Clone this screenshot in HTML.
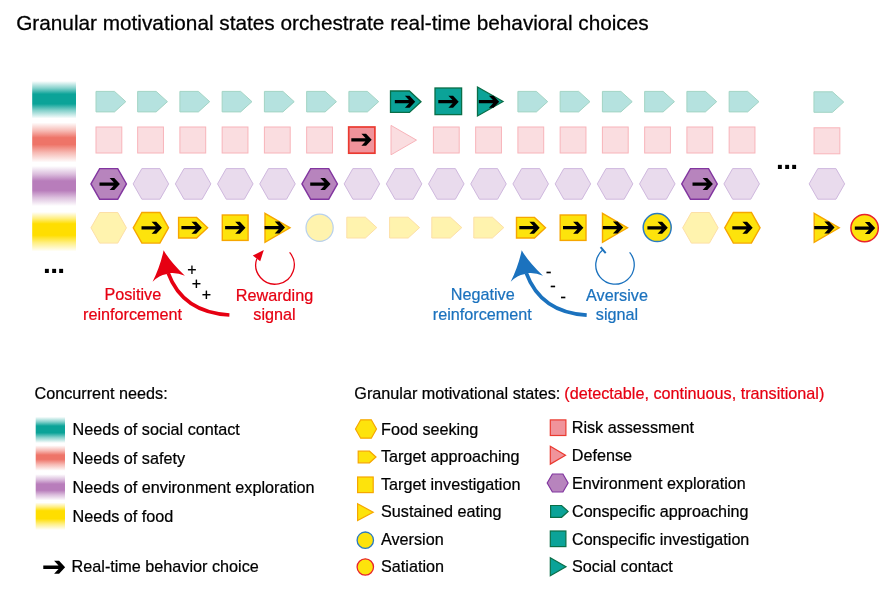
<!DOCTYPE html>
<html lang="en">
<head>
<meta charset="utf-8">
<title>Granular motivational states orchestrate real-time behavioral choices</title>
<style>
html,body{margin:0;padding:0;background:#fff;}
body{width:892px;height:592px;overflow:hidden;position:relative;font-family:"Liberation Sans",Arial,sans-serif;}
svg{position:absolute;left:0;top:0;display:block;}
svg text{font-family:"Liberation Sans",Arial,sans-serif;}
.t16{font-size:16.2px;fill:#000;stroke:#000;stroke-width:0.22px;}
.red{fill:#e60012;stroke:#e60012;stroke-width:0.22px;}
.blue{fill:#1b72be;stroke:#1b72be;stroke-width:0.22px;}
</style>
</head>
<body>
<svg width="892" height="592" viewBox="0 0 892 592">
<defs>
<linearGradient id="gT" x1="0" y1="0" x2="0" y2="1"><stop offset="0" stop-color="#0ba398" stop-opacity="0"/><stop offset="0.193" stop-color="#0ba398" stop-opacity="0.5"/><stop offset="0.35" stop-color="#0ba398"/><stop offset="0.61" stop-color="#0ba398"/><stop offset="0.785" stop-color="#0ba398" stop-opacity="0.5"/><stop offset="1" stop-color="#0ba398" stop-opacity="0"/></linearGradient>
<linearGradient id="gR" x1="0" y1="0" x2="0" y2="1"><stop offset="0" stop-color="#ee7468" stop-opacity="0"/><stop offset="0.209" stop-color="#ee7468" stop-opacity="0.5"/><stop offset="0.38" stop-color="#ee7468"/><stop offset="0.55" stop-color="#ee7468"/><stop offset="0.753" stop-color="#ee7468" stop-opacity="0.5"/><stop offset="1" stop-color="#ee7468" stop-opacity="0"/></linearGradient>
<linearGradient id="gP" x1="0" y1="0" x2="0" y2="1"><stop offset="0" stop-color="#b87dbb" stop-opacity="0"/><stop offset="0.206" stop-color="#b87dbb" stop-opacity="0.5"/><stop offset="0.375" stop-color="#b87dbb"/><stop offset="0.61" stop-color="#b87dbb"/><stop offset="0.785" stop-color="#b87dbb" stop-opacity="0.5"/><stop offset="1" stop-color="#b87dbb" stop-opacity="0"/></linearGradient>
<linearGradient id="gY" x1="0" y1="0" x2="0" y2="1"><stop offset="0" stop-color="#ffde00" stop-opacity="0"/><stop offset="0.165" stop-color="#ffde00" stop-opacity="0.5"/><stop offset="0.3" stop-color="#ffde00"/><stop offset="0.59" stop-color="#ffde00"/><stop offset="0.774" stop-color="#ffde00" stop-opacity="0.5"/><stop offset="1" stop-color="#ffde00" stop-opacity="0"/></linearGradient>
</defs>

<text x="16.2" y="29.8" font-size="20.77" fill="#000" stroke="#000" stroke-width="0.28">Granular motivational states orchestrate real-time behavioral choices</text>

<!-- need bars -->
<rect x="32.2" y="81" width="43.8" height="37.5" fill="url(#gT)"/>
<rect x="32.2" y="122.5" width="43.8" height="40" fill="url(#gR)"/>
<rect x="32.2" y="166" width="43.8" height="40" fill="url(#gP)"/>
<rect x="32.2" y="212" width="43.8" height="39.5" fill="url(#gY)"/>

<polygon points="96,91.4 114.48,91.4 125.8,101.65 114.48,111.9 96,111.9" fill="#b5e2df" stroke="#a3d4c4" stroke-width="1"/>
<polygon points="137.65,91.4 156.13,91.4 167.45,101.65 156.13,111.9 137.65,111.9" fill="#b5e2df" stroke="#a3d4c4" stroke-width="1"/>
<polygon points="179.9,91.4 198.38,91.4 209.7,101.65 198.38,111.9 179.9,111.9" fill="#b5e2df" stroke="#a3d4c4" stroke-width="1"/>
<polygon points="222.15,91.4 240.63,91.4 251.95,101.65 240.63,111.9 222.15,111.9" fill="#b5e2df" stroke="#a3d4c4" stroke-width="1"/>
<polygon points="264.4,91.4 282.88,91.4 294.2,101.65 282.88,111.9 264.4,111.9" fill="#b5e2df" stroke="#a3d4c4" stroke-width="1"/>
<polygon points="306.65,91.4 325.13,91.4 336.45,101.65 325.13,111.9 306.65,111.9" fill="#b5e2df" stroke="#a3d4c4" stroke-width="1"/>
<polygon points="348.9,91.4 367.38,91.4 378.7,101.65 367.38,111.9 348.9,111.9" fill="#b5e2df" stroke="#a3d4c4" stroke-width="1"/>
<polygon points="517.9,91.4 536.38,91.4 547.7,101.65 536.38,111.9 517.9,111.9" fill="#b5e2df" stroke="#a3d4c4" stroke-width="1"/>
<polygon points="560.15,91.4 578.63,91.4 589.95,101.65 578.63,111.9 560.15,111.9" fill="#b5e2df" stroke="#a3d4c4" stroke-width="1"/>
<polygon points="602.4,91.4 620.88,91.4 632.2,101.65 620.88,111.9 602.4,111.9" fill="#b5e2df" stroke="#a3d4c4" stroke-width="1"/>
<polygon points="644.65,91.4 663.13,91.4 674.45,101.65 663.13,111.9 644.65,111.9" fill="#b5e2df" stroke="#a3d4c4" stroke-width="1"/>
<polygon points="686.9,91.4 705.38,91.4 716.7,101.65 705.38,111.9 686.9,111.9" fill="#b5e2df" stroke="#a3d4c4" stroke-width="1"/>
<polygon points="729.15,91.4 747.63,91.4 758.95,101.65 747.63,111.9 729.15,111.9" fill="#b5e2df" stroke="#a3d4c4" stroke-width="1"/>
<polygon points="813.95,91.8 832.43,91.8 843.75,102.05 832.43,112.3 813.95,112.3" fill="#b5e2df" stroke="#a3d4c4" stroke-width="1"/>
<polygon points="390.5,91 409.41,91 421,101.7 409.41,112.4 390.5,112.4" fill="#0ba398" stroke="#0a6e47" stroke-width="1.3"/>
<g transform="translate(405,101.7) scale(0.97)"><path d="M-10.5,-1.7H6V1.7H-10.5Z M-0.1,-6.2H4.7L10.5,0L4.7,6.2H-0.1L5.7,0Z" fill="#000"/></g>
<rect x="435" y="88" width="26.6" height="26.6" fill="#0ba398" stroke="#0a6e47" stroke-width="1.3"/>
<g transform="translate(448.5,101.7) scale(0.97)"><path d="M-10.5,-1.7H6V1.7H-10.5Z M-0.1,-6.2H4.7L10.5,0L4.7,6.2H-0.1L5.7,0Z" fill="#000"/></g>
<polygon points="477.5,87 503,101.5 477.5,116" fill="#0ba398" stroke="#0a6e47" stroke-width="1.3"/>
<g transform="translate(489,101.7) scale(0.97)"><path d="M-10.5,-1.7H6V1.7H-10.5Z M-0.1,-6.2H4.7L10.5,0L4.7,6.2H-0.1L5.7,0Z" fill="#000"/></g>
<rect x="96" y="127" width="25.8" height="26" fill="#fadde0" stroke="#f8b4ba" stroke-width="1"/>
<rect x="137.65" y="127" width="25.8" height="26" fill="#fadde0" stroke="#f8b4ba" stroke-width="1"/>
<rect x="179.9" y="127" width="25.8" height="26" fill="#fadde0" stroke="#f8b4ba" stroke-width="1"/>
<rect x="222.15" y="127" width="25.8" height="26" fill="#fadde0" stroke="#f8b4ba" stroke-width="1"/>
<rect x="264.4" y="127" width="25.8" height="26" fill="#fadde0" stroke="#f8b4ba" stroke-width="1"/>
<rect x="306.65" y="127" width="25.8" height="26" fill="#fadde0" stroke="#f8b4ba" stroke-width="1"/>
<rect x="433.4" y="127" width="25.8" height="26" fill="#fadde0" stroke="#f8b4ba" stroke-width="1"/>
<rect x="475.65" y="127" width="25.8" height="26" fill="#fadde0" stroke="#f8b4ba" stroke-width="1"/>
<rect x="517.9" y="127" width="25.8" height="26" fill="#fadde0" stroke="#f8b4ba" stroke-width="1"/>
<rect x="560.15" y="127" width="25.8" height="26" fill="#fadde0" stroke="#f8b4ba" stroke-width="1"/>
<rect x="602.4" y="127" width="25.8" height="26" fill="#fadde0" stroke="#f8b4ba" stroke-width="1"/>
<rect x="644.65" y="127" width="25.8" height="26" fill="#fadde0" stroke="#f8b4ba" stroke-width="1"/>
<rect x="686.9" y="127" width="25.8" height="26" fill="#fadde0" stroke="#f8b4ba" stroke-width="1"/>
<rect x="729.15" y="127" width="25.8" height="26" fill="#fadde0" stroke="#f8b4ba" stroke-width="1"/>
<rect x="814.05" y="127.8" width="25.8" height="26" fill="#fadde0" stroke="#f8b4ba" stroke-width="1"/>
<rect x="348.7" y="127" width="26.2" height="26.2" fill="#f0939b" stroke="#ea3a30" stroke-width="1.7"/>
<g transform="translate(361.5,139.8) scale(0.97)"><path d="M-10.5,-1.7H6V1.7H-10.5Z M-0.1,-6.2H4.7L10.5,0L4.7,6.2H-0.1L5.7,0Z" fill="#000"/></g>
<polygon points="391,125.4 416.5,140.1 391,154.8" fill="#fadde0" stroke="#f8b4ba" stroke-width="1"/>
<polygon points="90.95,183.9 99.65,168.6 117.75,168.6 126.45,183.9 117.75,199.2 99.65,199.2" fill="#b784bd" stroke="#8236a0" stroke-width="1.4"/>
<g transform="translate(109.7,184.1) scale(0.97)"><path d="M-10.5,-1.7H6V1.7H-10.5Z M-0.1,-6.2H4.7L10.5,0L4.7,6.2H-0.1L5.7,0Z" fill="#000"/></g>
<polygon points="133.15,183.9 141.85,168.6 159.95,168.6 168.65,183.9 159.95,199.2 141.85,199.2" fill="#e9dbed" stroke="#cfb8de" stroke-width="1"/>
<polygon points="175.35,183.9 184.05,168.6 202.15,168.6 210.85,183.9 202.15,199.2 184.05,199.2" fill="#e9dbed" stroke="#cfb8de" stroke-width="1"/>
<polygon points="217.55,183.9 226.25,168.6 244.35,168.6 253.05,183.9 244.35,199.2 226.25,199.2" fill="#e9dbed" stroke="#cfb8de" stroke-width="1"/>
<polygon points="259.75,183.9 268.45,168.6 286.55,168.6 295.25,183.9 286.55,199.2 268.45,199.2" fill="#e9dbed" stroke="#cfb8de" stroke-width="1"/>
<polygon points="301.95,183.9 310.65,168.6 328.75,168.6 337.45,183.9 328.75,199.2 310.65,199.2" fill="#b784bd" stroke="#8236a0" stroke-width="1.4"/>
<g transform="translate(320.4,184.1) scale(0.97)"><path d="M-10.5,-1.7H6V1.7H-10.5Z M-0.1,-6.2H4.7L10.5,0L4.7,6.2H-0.1L5.7,0Z" fill="#000"/></g>
<polygon points="344.15,183.9 352.85,168.6 370.95,168.6 379.65,183.9 370.95,199.2 352.85,199.2" fill="#e9dbed" stroke="#cfb8de" stroke-width="1"/>
<polygon points="386.35,183.9 395.05,168.6 413.15,168.6 421.85,183.9 413.15,199.2 395.05,199.2" fill="#e9dbed" stroke="#cfb8de" stroke-width="1"/>
<polygon points="428.55,183.9 437.25,168.6 455.35,168.6 464.05,183.9 455.35,199.2 437.25,199.2" fill="#e9dbed" stroke="#cfb8de" stroke-width="1"/>
<polygon points="470.75,183.9 479.45,168.6 497.55,168.6 506.25,183.9 497.55,199.2 479.45,199.2" fill="#e9dbed" stroke="#cfb8de" stroke-width="1"/>
<polygon points="512.95,183.9 521.65,168.6 539.75,168.6 548.45,183.9 539.75,199.2 521.65,199.2" fill="#e9dbed" stroke="#cfb8de" stroke-width="1"/>
<polygon points="555.15,183.9 563.85,168.6 581.95,168.6 590.65,183.9 581.95,199.2 563.85,199.2" fill="#e9dbed" stroke="#cfb8de" stroke-width="1"/>
<polygon points="597.35,183.9 606.05,168.6 624.15,168.6 632.85,183.9 624.15,199.2 606.05,199.2" fill="#e9dbed" stroke="#cfb8de" stroke-width="1"/>
<polygon points="639.55,183.9 648.25,168.6 666.35,168.6 675.05,183.9 666.35,199.2 648.25,199.2" fill="#e9dbed" stroke="#cfb8de" stroke-width="1"/>
<polygon points="681.75,183.9 690.45,168.6 708.55,168.6 717.25,183.9 708.55,199.2 690.45,199.2" fill="#b784bd" stroke="#8236a0" stroke-width="1.4"/>
<g transform="translate(702.7,184.1) scale(0.97)"><path d="M-10.5,-1.7H6V1.7H-10.5Z M-0.1,-6.2H4.7L10.5,0L4.7,6.2H-0.1L5.7,0Z" fill="#000"/></g>
<polygon points="723.95,183.9 732.65,168.6 750.75,168.6 759.45,183.9 750.75,199.2 732.65,199.2" fill="#e9dbed" stroke="#cfb8de" stroke-width="1"/>
<polygon points="809.15,183.9 817.85,168.6 835.95,168.6 844.65,183.9 835.95,199.2 817.85,199.2" fill="#e9dbed" stroke="#cfb8de" stroke-width="1"/>
<polygon points="90.95,227.8 99.65,212.5 117.75,212.5 126.45,227.8 117.75,243.1 99.65,243.1" fill="#fff3ae" stroke="#fddfa6" stroke-width="1"/>
<polygon points="682.65,227.8 691.35,212.5 709.45,212.5 718.15,227.8 709.45,243.1 691.35,243.1" fill="#fff3ae" stroke="#fddfa6" stroke-width="1"/>
<polygon points="133.25,227.8 141.9,212.5 159.9,212.5 168.55,227.8 159.9,243.1 141.9,243.1" fill="#fde30c" stroke="#f6a600" stroke-width="1.4"/>
<g transform="translate(151.7,227.8) scale(0.97)"><path d="M-10.5,-1.7H6V1.7H-10.5Z M-0.1,-6.2H4.7L10.5,0L4.7,6.2H-0.1L5.7,0Z" fill="#000"/></g>
<polygon points="724.75,227.8 733.4,212.5 751.4,212.5 760.05,227.8 751.4,243.1 733.4,243.1" fill="#fde30c" stroke="#f6a600" stroke-width="1.4"/>
<g transform="translate(742.5,227.8) scale(0.97)"><path d="M-10.5,-1.7H6V1.7H-10.5Z M-0.1,-6.2H4.7L10.5,0L4.7,6.2H-0.1L5.7,0Z" fill="#000"/></g>
<polygon points="178.6,217.4 196.58,217.4 207.6,227.7 196.58,238 178.6,238" fill="#fde30c" stroke="#f6a600" stroke-width="1.4"/>
<g transform="translate(191.6,227.7) scale(0.97)"><path d="M-10.5,-1.7H6V1.7H-10.5Z M-0.1,-6.2H4.7L10.5,0L4.7,6.2H-0.1L5.7,0Z" fill="#000"/></g>
<polygon points="516.5,217.4 534.48,217.4 545.5,227.7 534.48,238 516.5,238" fill="#fde30c" stroke="#f6a600" stroke-width="1.4"/>
<g transform="translate(529.5,227.7) scale(0.97)"><path d="M-10.5,-1.7H6V1.7H-10.5Z M-0.1,-6.2H4.7L10.5,0L4.7,6.2H-0.1L5.7,0Z" fill="#000"/></g>
<rect x="222.3" y="215" width="25.8" height="25.4" fill="#fde30c" stroke="#f6a600" stroke-width="1.4"/>
<g transform="translate(235.3,227.7) scale(0.97)"><path d="M-10.5,-1.7H6V1.7H-10.5Z M-0.1,-6.2H4.7L10.5,0L4.7,6.2H-0.1L5.7,0Z" fill="#000"/></g>
<rect x="560.2" y="215" width="25.8" height="25.4" fill="#fde30c" stroke="#f6a600" stroke-width="1.4"/>
<g transform="translate(573.2,227.7) scale(0.97)"><path d="M-10.5,-1.7H6V1.7H-10.5Z M-0.1,-6.2H4.7L10.5,0L4.7,6.2H-0.1L5.7,0Z" fill="#000"/></g>
<polygon points="265,213.3 290,227.8 265,242.3" fill="#fde30c" stroke="#f6a600" stroke-width="1.4"/>
<g transform="translate(274.8,227.6) scale(0.97)"><path d="M-10.5,-1.7H6V1.7H-10.5Z M-0.1,-6.2H4.7L10.5,0L4.7,6.2H-0.1L5.7,0Z" fill="#000"/></g>
<polygon points="602.5,213.3 627.5,227.8 602.5,242.3" fill="#fde30c" stroke="#f6a600" stroke-width="1.4"/>
<g transform="translate(613,227.6) scale(0.97)"><path d="M-10.5,-1.7H6V1.7H-10.5Z M-0.1,-6.2H4.7L10.5,0L4.7,6.2H-0.1L5.7,0Z" fill="#000"/></g>
<polygon points="814.2,213.3 839.2,227.8 814.2,242.3" fill="#fde30c" stroke="#f6a600" stroke-width="1.4"/>
<g transform="translate(824.4,227.6) scale(0.97)"><path d="M-10.5,-1.7H6V1.7H-10.5Z M-0.1,-6.2H4.7L10.5,0L4.7,6.2H-0.1L5.7,0Z" fill="#000"/></g>
<circle cx="319.6" cy="227.8" r="13.6" fill="#fff3ae" stroke="#b8d0ec" stroke-width="1.2"/>
<polygon points="346.8,217.2 365.4,217.2 376.8,227.6 365.4,238 346.8,238" fill="#fff3ae" stroke="#fddfa6" stroke-width="1"/>
<polygon points="389.6,217.2 408.2,217.2 419.6,227.6 408.2,238 389.6,238" fill="#fff3ae" stroke="#fddfa6" stroke-width="1"/>
<polygon points="431.8,217.2 450.4,217.2 461.8,227.6 450.4,238 431.8,238" fill="#fff3ae" stroke="#fddfa6" stroke-width="1"/>
<polygon points="473.8,217.2 492.4,217.2 503.8,227.6 492.4,238 473.8,238" fill="#fff3ae" stroke="#fddfa6" stroke-width="1"/>
<circle cx="657.2" cy="227.6" r="14" fill="#fde30c" stroke="#2a7ac0" stroke-width="1.5"/>
<g transform="translate(657.6,227.8) scale(0.97)"><path d="M-10.5,-1.7H6V1.7H-10.5Z M-0.1,-6.2H4.7L10.5,0L4.7,6.2H-0.1L5.7,0Z" fill="#000"/></g>
<circle cx="864.6" cy="228.1" r="13.7" fill="#fde30c" stroke="#e8222d" stroke-width="1.5"/>
<g transform="translate(865,228.1) scale(0.97)"><path d="M-10.5,-1.7H6V1.7H-10.5Z M-0.1,-6.2H4.7L10.5,0L4.7,6.2H-0.1L5.7,0Z" fill="#000"/></g>

<!-- ellipses -->
<text x="43" y="273" font-size="28" font-weight="bold" fill="#000" letter-spacing="-0.62">...</text>
<text x="776" y="169" font-size="28" font-weight="bold" fill="#000" letter-spacing="-0.62">...</text>

<!-- red reinforcement arrow -->
<g id="bigarrow">
<path d="M229.4,315 C197.6,313.3 177.6,298.7 168.2,273.2" fill="none" stroke="#e60012" stroke-width="3.7"/>
<path d="M163.6,250.2 Q169.75,261.2 184.9,275.8 Q177.7,272.55 170.5,273.1 L165.9,274.3 Q159.55,274.9 152.6,281.85 Q160.7,265 163.6,250.2Z" fill="#e60012"/>
</g>
<g class="t16" text-anchor="middle" style="font-size:16px">
<text x="192" y="275.4">+</text>
<text x="196.3" y="289.3">+</text>
<text x="206.5" y="300.4">+</text>
</g>
<text class="red" font-size="16.2" text-anchor="middle" x="132.8" y="300.3">Positive</text>
<text class="red" font-size="16.2" text-anchor="middle" x="132.6" y="320.2">reinforcement</text>

<!-- rewarding loop -->
<path d="M289.59,252.35 A19.25,19.25 0 1 1 256.81,258.6" fill="none" stroke="#e60012" stroke-width="1.3"/>
<polygon points="263.8,250 252.8,255.6 260.2,261.3" fill="#e60012"/>
<path d="M629.59,252.35 A19.25,19.25 0 1 1 602.99,249.86" fill="none" stroke="#1b72be" stroke-width="1.3"/>
<path d="M600.6,247.2L605.7,253.1" stroke="#1b72be" stroke-width="2" fill="none"/>
<text class="red" font-size="16.2" text-anchor="middle" x="274.5" y="300.5">Rewarding</text>
<text class="red" font-size="16.2" text-anchor="middle" x="274.5" y="320.3">signal</text>

<!-- blue reinforcement arrow -->
<g transform="translate(358.1,0)">
<path d="M228.6,315.2 C197.4,313.4 177.6,298.7 168.2,273.2" fill="none" stroke="#1b72be" stroke-width="3.7"/>
<path d="M163.6,250.2 Q169.75,261.2 184.9,275.8 Q177.7,272.55 170.5,273.1 L165.9,274.3 Q159.55,274.9 152.6,281.85 Q160.7,265 163.6,250.2Z" fill="#1b72be"/>
</g>
<g class="t16" text-anchor="middle" style="font-size:17.5px;stroke-width:0.1px">
<text x="548.6" y="278.3">-</text>
<text x="552.8" y="292.3">-</text>
<text x="563.1" y="303.4">-</text>
</g>
<text class="blue" font-size="16.2" text-anchor="middle" x="482.7" y="300.2">Negative</text>
<text class="blue" font-size="16.2" text-anchor="middle" x="482.3" y="320.1">reinforcement</text>

<!-- aversive loop -->
<text class="blue" font-size="16.2" text-anchor="middle" x="617" y="300.5">Aversive</text>
<text class="blue" font-size="16.2" text-anchor="middle" x="617" y="320.3">signal</text>

<!-- left legend -->
<text class="t16" x="34.5" y="399.2">Concurrent needs:</text>
<rect x="35.7" y="416.8" width="29.3" height="26.2" fill="url(#gT)"/>
<rect x="35.7" y="445.3" width="29.3" height="25.5" fill="url(#gR)"/>
<rect x="35.7" y="474.2" width="29.3" height="26.3" fill="url(#gP)"/>
<rect x="35.7" y="502.5" width="29.3" height="27.5" fill="url(#gY)"/>
<text class="t16" x="72.5" y="435">Needs of social contact</text>
<text class="t16" x="72.5" y="464">Needs of safety</text>
<text class="t16" x="72.5" y="493">Needs of environment exploration</text>
<text class="t16" x="72.5" y="522.3">Needs of food</text>
<g transform="translate(54.2,567.2) scale(1.04)"><path d="M-10.5,-1.7H6V1.7H-10.5Z M-0.1,-6.2H4.7L10.5,0L4.7,6.2H-0.1L5.7,0Z" fill="#000"/></g>
<text class="t16" x="71.6" y="571.9">Real-time behavior choice</text>

<!-- right legend -->
<text class="t16" x="354.3" y="399.2">Granular motivational states:</text>
<text class="t16 red" x="564.3" y="399.2" style="fill:#e60012;stroke:#e60012">(detectable, continuous, transitional)</text>

<polygon points="355.5,429 360.7,419.8 371.3,419.8 376.5,429 371.3,438.2 360.7,438.2" fill="#fde30c" stroke="#f6a600" stroke-width="1.2"/>
<polygon points="358.2,451.2 369.5,451.2 376,457 369.5,462.8 358.2,462.8" fill="#fde30c" stroke="#f6a600" stroke-width="1.2"/>
<rect x="357.6" y="477" width="15.6" height="15.6" fill="#fde30c" stroke="#f6a600" stroke-width="1.2"/>
<polygon points="357.6,503.8 373.2,512.2 357.6,520.6" fill="#fde30c" stroke="#f6a600" stroke-width="1.2"/>
<circle cx="365.3" cy="540.2" r="8.2" fill="#fde30c" stroke="#2a7ac0" stroke-width="1.3"/>
<circle cx="365.3" cy="567" r="8.2" fill="#fde30c" stroke="#e8222d" stroke-width="1.3"/>
<text class="t16" x="381" y="435">Food seeking</text>
<text class="t16" x="381" y="462.4">Target approaching</text>
<text class="t16" x="381" y="489.9">Target investigation</text>
<text class="t16" x="381" y="517.3">Sustained eating</text>
<text class="t16" x="381" y="545.3">Aversion</text>
<text class="t16" x="381" y="572.3">Satiation</text>

<rect x="550.3" y="419.9" width="15.6" height="15.6" fill="#f0939b" stroke="#ea3a30" stroke-width="1.2"/>
<polygon points="550.3,446.3 565.5,455.2 550.3,464.1" fill="#f0939b" stroke="#ea3a30" stroke-width="1.2"/>
<polygon points="547.2,483 552.4,474 562.9,474 568.1,483 562.9,492 552.4,492" fill="#b784bd" stroke="#8236a0" stroke-width="1.2"/>
<polygon points="550.6,505.5 561.6,505.5 568.1,511.4 561.6,517.3 550.6,517.3" fill="#0ba398" stroke="#0a6e47" stroke-width="1.2"/>
<rect x="550.3" y="531" width="15.6" height="15.6" fill="#0ba398" stroke="#0a6e47" stroke-width="1.2"/>
<polygon points="550.3,557.8 566,566.8 550.3,575.8" fill="#0ba398" stroke="#0a6e47" stroke-width="1.2"/>
<text class="t16" x="571.7" y="433.3">Risk assessment</text>
<text class="t16" x="571.7" y="460.9">Defense</text>
<text class="t16" x="572" y="489.3" style="font-size:16.13px">Environment exploration</text>
<text class="t16" x="572" y="516.9" style="font-size:16.13px">Conspecific approaching</text>
<text class="t16" x="572" y="545.3" style="font-size:16.13px">Conspecific investigation</text>
<text class="t16" x="572" y="571.7">Social contact</text>
</svg>
</body>
</html>
